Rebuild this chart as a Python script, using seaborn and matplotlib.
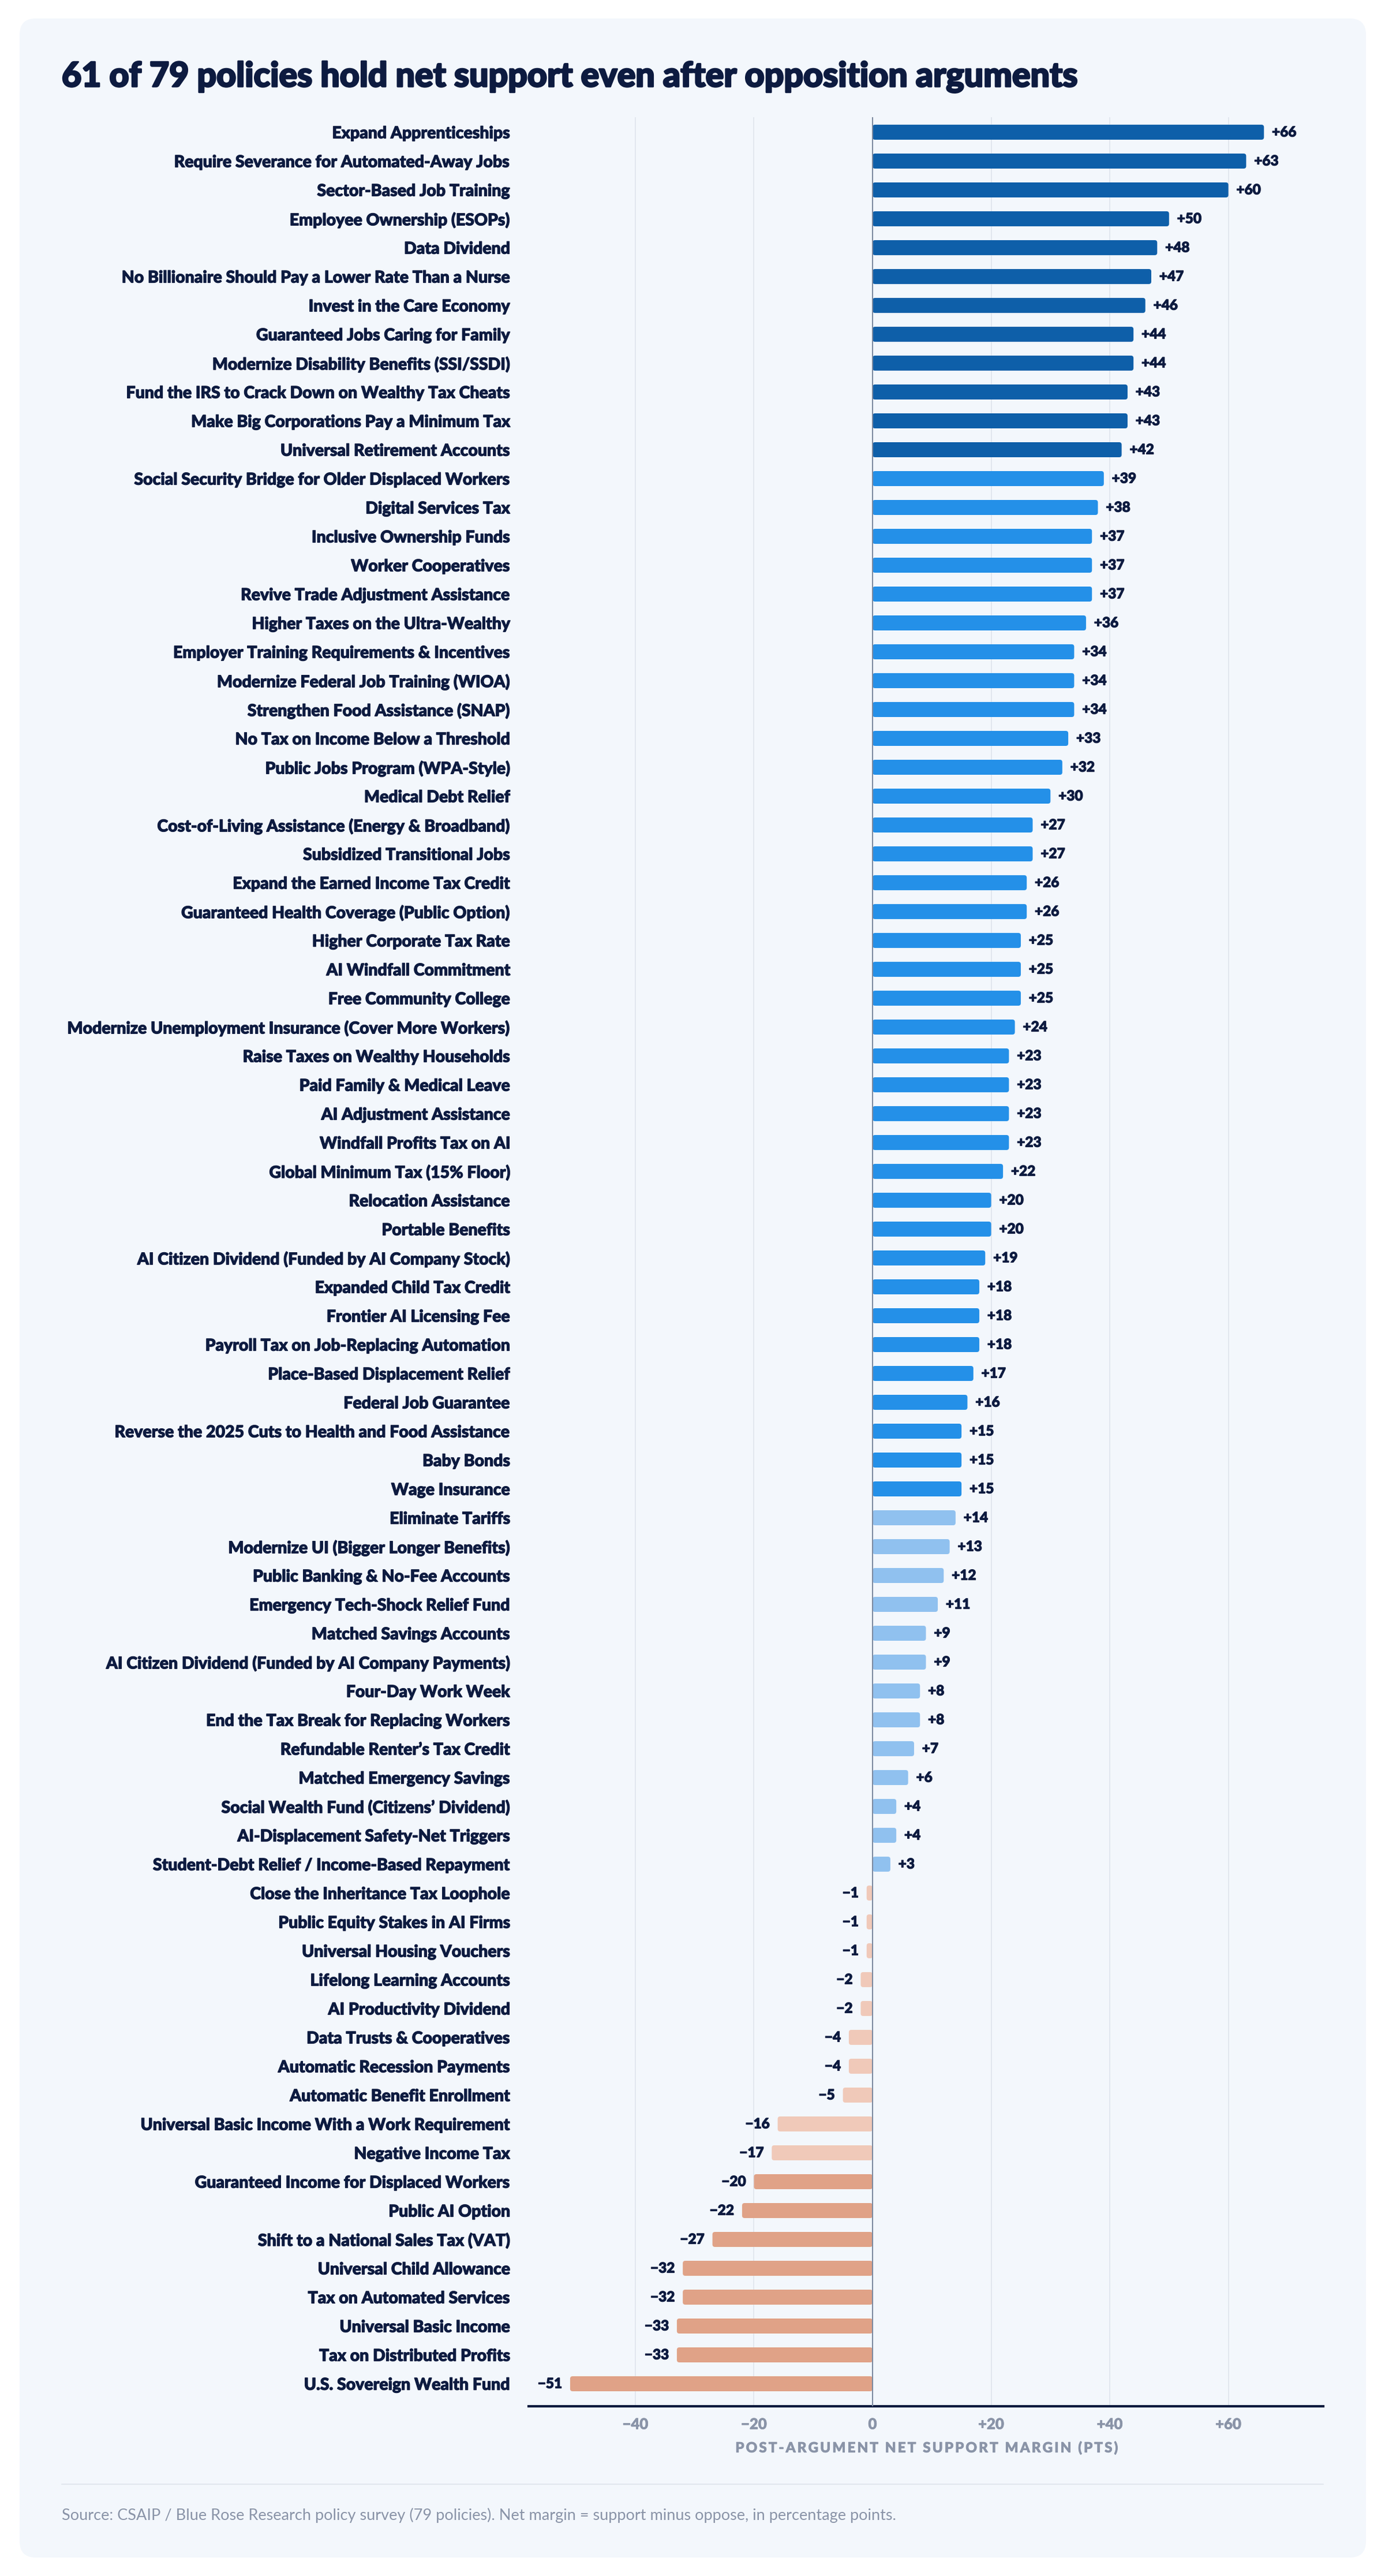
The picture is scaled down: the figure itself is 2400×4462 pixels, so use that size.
import matplotlib
matplotlib.use("Agg")
import matplotlib.pyplot as plt
import matplotlib.patheffects as pe
import seaborn as sns
import pandas as pd
from matplotlib.patches import FancyBboxPatch
from matplotlib.lines import Line2D

policies = [
    "Expand Apprenticeships",
    "Require Severance for Automated-Away Jobs",
    "Sector-Based Job Training",
    "Employee Ownership (ESOPs)",
    "Data Dividend",
    "No Billionaire Should Pay a Lower Rate Than a Nurse",
    "Invest in the Care Economy",
    "Guaranteed Jobs Caring for Family",
    "Modernize Disability Benefits (SSI/SSDI)",
    "Fund the IRS to Crack Down on Wealthy Tax Cheats",
    "Make Big Corporations Pay a Minimum Tax",
    "Universal Retirement Accounts",
    "Social Security Bridge for Older Displaced Workers",
    "Digital Services Tax",
    "Inclusive Ownership Funds",
    "Worker Cooperatives",
    "Revive Trade Adjustment Assistance",
    "Higher Taxes on the Ultra-Wealthy",
    "Employer Training Requirements & Incentives",
    "Modernize Federal Job Training (WIOA)",
    "Strengthen Food Assistance (SNAP)",
    "No Tax on Income Below a Threshold",
    "Public Jobs Program (WPA-Style)",
    "Medical Debt Relief",
    "Cost-of-Living Assistance (Energy & Broadband)",
    "Subsidized Transitional Jobs",
    "Expand the Earned Income Tax Credit",
    "Guaranteed Health Coverage (Public Option)",
    "Higher Corporate Tax Rate",
    "AI Windfall Commitment",
    "Free Community College",
    "Modernize Unemployment Insurance (Cover More Workers)",
    "Raise Taxes on Wealthy Households",
    "Paid Family & Medical Leave",
    "AI Adjustment Assistance",
    "Windfall Profits Tax on AI",
    "Global Minimum Tax (15% Floor)",
    "Relocation Assistance",
    "Portable Benefits",
    "AI Citizen Dividend (Funded by AI Company Stock)",
    "Expanded Child Tax Credit",
    "Frontier AI Licensing Fee",
    "Payroll Tax on Job-Replacing Automation",
    "Place-Based Displacement Relief",
    "Federal Job Guarantee",
    "Reverse the 2025 Cuts to Health and Food Assistance",
    "Baby Bonds",
    "Wage Insurance",
    "Eliminate Tariffs",
    "Modernize UI (Bigger Longer Benefits)",
    "Public Banking & No-Fee Accounts",
    "Emergency Tech-Shock Relief Fund",
    "Matched Savings Accounts",
    "AI Citizen Dividend (Funded by AI Company Payments)",
    "Four-Day Work Week",
    "End the Tax Break for Replacing Workers",
    "Refundable Renter\u2019s Tax Credit",
    "Matched Emergency Savings",
    "Social Wealth Fund (Citizens\u2019 Dividend)",
    "AI-Displacement Safety-Net Triggers",
    "Student-Debt Relief / Income-Based Repayment",
    "Close the Inheritance Tax Loophole",
    "Public Equity Stakes in AI Firms",
    "Universal Housing Vouchers",
    "Lifelong Learning Accounts",
    "AI Productivity Dividend",
    "Data Trusts & Cooperatives",
    "Automatic Recession Payments",
    "Automatic Benefit Enrollment",
    "Universal Basic Income With a Work Requirement",
    "Negative Income Tax",
    "Guaranteed Income for Displaced Workers",
    "Public AI Option",
    "Shift to a National Sales Tax (VAT)",
    "Universal Child Allowance",
    "Tax on Automated Services",
    "Universal Basic Income",
    "Tax on Distributed Profits",
    "U.S. Sovereign Wealth Fund",
]

net_margin = [
    66, 63, 60, 50, 48, 47, 46, 44, 44, 43, 43, 42,
    39, 38, 37, 37, 37, 36, 34, 34, 34, 33, 32, 30, 27, 27, 26, 26,
    25, 25, 25, 24, 23, 23, 23, 23, 22, 20, 20, 19, 18, 18, 18, 17,
    16, 15, 15, 15,
    14, 13, 12, 11, 9, 9, 8, 8, 7, 6, 4, 4, 3,
    -1, -1, -1, -2, -2, -4, -4, -5, -16, -17,
    -20, -22, -27, -32, -32, -33, -33, -51,
]

tick_values = [-40, -20, 0, 20, 40, 60]
tick_labels = ["\u221240", "\u221220", "0", "+20", "+40", "+60"]

tier_colors = {
    "strong": "#0e5fa9",
    "solid": "#2490e8",
    "lean": "#90c1ef",
    "slight_neg": "#f0c9b9",
    "neg": "#e0a287",
}


def tier(v):
    if v >= 40:
        return "strong"
    if v >= 15:
        return "solid"
    if v > 0:
        return "lean"
    if v > -18:
        return "slight_neg"
    return "neg"


df = pd.DataFrame({"policy": policies, "margin": net_margin})
df["tier"] = [tier(v) for v in df["margin"]]

NAVY = "#0d1b40"
GRAY = "#8a94a8"
CARD = "#f3f7fc"
HEAVY = 900


def thick(color, lw):
    return [pe.withStroke(linewidth=lw, foreground=color)]


sns.set_theme(style="white")
plt.rcParams["font.family"] = ["Lato", "DejaVu Sans"]

W, H = 2400, 4462
fig = plt.figure(figsize=(W / 100, H / 100), dpi=100, facecolor="white")

# card background
rx = 28 / W
card = FancyBboxPatch((34 / W, 1 - 4430 / H), (2367 - 34) / W, (4430 - 32) / H,
                      boxstyle=f"round,pad=0,rounding_size={rx}",
                      mutation_aspect=(28 / H) / rx,
                      transform=fig.transFigure, facecolor=CARD,
                      edgecolor="none", zorder=-10)
fig.patches.append(card)

ax_left, ax_right = 916 / W, 2293 / W
ax_top, ax_bot = 1 - 203 / H, 1 - 4168 / H
ax = fig.add_axes([ax_left, ax_bot, ax_right - ax_left, ax_top - ax_bot])
ax.set_facecolor("none")

sns.barplot(data=df, x="margin", y="policy", hue="tier", palette=tier_colors,
            order=policies, dodge=False, width=0.52, saturation=1,
            legend=False, ax=ax, zorder=2)

# round the bar corners
x_rad = 0.42
y_rad = 4.3 / 50
for p in list(ax.patches):
    x, y = p.get_x(), p.get_y()
    w, h = p.get_width(), p.get_height()
    if w == 0:
        continue
    x0 = min(x, x + w)
    fb = FancyBboxPatch((x0, y), abs(w), h,
                        boxstyle=f"round,pad=0,rounding_size={x_rad}",
                        mutation_aspect=y_rad / x_rad,
                        facecolor=p.get_facecolor(), edgecolor="none",
                        zorder=2)
    p.remove()
    ax.add_patch(fb)

ax.set_xlim(-58, 76)
ax.set_ylim(len(policies) - 1 + 0.78, -0.52)

ax.grid(axis="x", color="#e2e7ef", linewidth=1.4, zorder=0)
ax.grid(axis="y", visible=False)
ax.axvline(0, color="#7d8aa0", linewidth=1.5, zorder=3)

for s in ["top", "right", "left"]:
    ax.spines[s].set_visible(False)
ax.spines["bottom"].set_color("#0b1a3d")
ax.spines["bottom"].set_linewidth(3)

ax.set_xticks(tick_values)
ax.set_xticklabels(tick_labels)
ax.tick_params(axis="x", length=0, pad=14, labelsize=18.5, labelcolor=GRAY)
for t in ax.get_xticklabels():
    t.set_fontweight(HEAVY)
    t.set_path_effects(thick(GRAY, 0.6))
ax.tick_params(axis="y", length=0, pad=23, labelsize=20.5, labelcolor=NAVY)
for t in ax.get_yticklabels():
    t.set_fontweight(HEAVY)
    t.set_path_effects(thick(NAVY, 0.9))
ax.set_xlabel("")
ax.set_ylabel("")

for i, v in enumerate(df["margin"]):
    txt = f"+{v}" if v > 0 else f"\u2212{abs(v)}"
    ax.annotate(txt, xy=(v, i), xytext=(10 if v > 0 else -10, 0),
                textcoords="offset points", va="center",
                ha="left" if v > 0 else "right",
                fontsize=17.5, fontweight=HEAVY, color=NAVY, zorder=4,
                path_effects=thick(NAVY, 0.9))

xlabel = "POST-ARGUMENT NET SUPPORT MARGIN (PTS)"
fig.text((916 + 2293) / 2 / W, 1 - 4240 / H,
         "\u2009".join(xlabel),
         ha="center", va="center", fontsize=17.5, fontweight=HEAVY, color=GRAY,
         path_effects=thick(GRAY, 0.6))

fig.text(107 / W, 1 - 150 / H,
         "61 of 79 policies hold net support even after opposition arguments",
         ha="left", va="baseline", fontsize=42.5, fontweight=HEAVY, color=NAVY,
         path_effects=thick(NAVY, 2.0))

fig.add_artist(Line2D([107 / W, 2293 / W], [1 - 4303 / H] * 2,
                      color="#e1e6ee", linewidth=1.5, transform=fig.transFigure))

fig.text(107 / W, 1 - 4357 / H,
         "Source: CSAIP / Blue Rose Research policy survey (79 policies). Net margin = support minus oppose, in percentage points.",
         ha="left", va="center", fontsize=19.5, color=GRAY)

fig.savefig("out.png", dpi=100, facecolor="white")
